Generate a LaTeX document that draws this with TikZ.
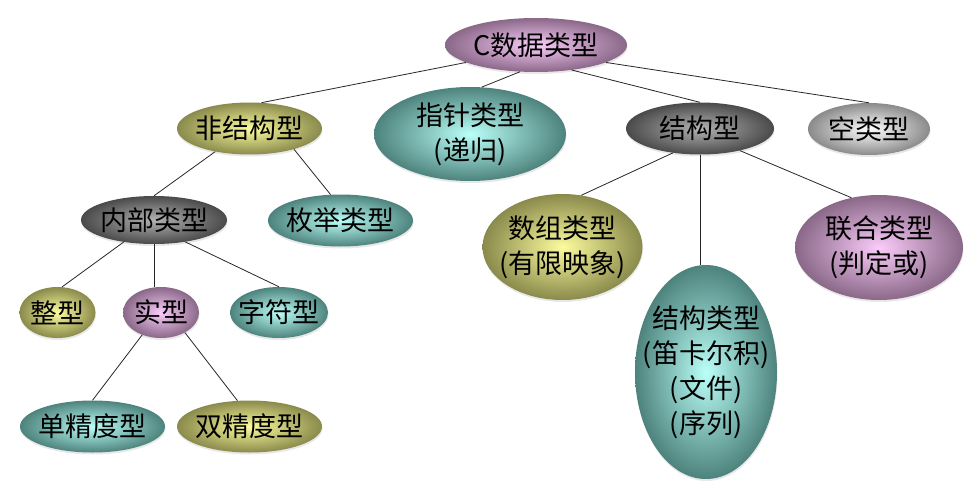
\documentclass[tikz,border=0pt]{standalone}
\usepackage{fontspec}
\setmainfont{Noto Sans CJK SC}
\usetikzlibrary{shapes.geometric,shadows}

\definecolor{lilacin}{HTML}{FACCFA}
\definecolor{lilacout}{HTML}{8A6888}
\definecolor{olivein}{HTML}{FCFC9E}
\definecolor{oliveout}{HTML}{8A8A4C}
\definecolor{aquain}{HTML}{BAFFF8}
\definecolor{aquaout}{HTML}{4E837D}
\definecolor{greyin}{HTML}{B2B2B2}
\definecolor{greyout}{HTML}{4A4A4A}
\definecolor{silverin}{HTML}{FFFFFF}
\definecolor{silverout}{HTML}{8A8A8A}

\begin{document}
\begin{tikzpicture}[x=1pt, y=-1pt,
  every node/.style={ellipse, inner sep=-16pt, align=center,
    font=\fontsize{27}{35}\selectfont,
    drop shadow={opacity=0.18, shadow xshift=0.5pt, shadow yshift=-2pt}},
  lilac/.style={inner color=lilacin, outer color=lilacout},
  olive/.style={inner color=olivein, outer color=oliveout},
  aqua/.style={inner color=aquain, outer color=aquaout},
  grey/.style={inner color=greyin, outer color=greyout},
  silver/.style={inner color=silverin, outer color=silverout},
  link/.style={draw=black!85, line width=0.8pt}]
\useasboundingbox (0,0) rectangle (964,487);

% level 1
\node[lilac, minimum width=182pt, minimum height=54pt] (cdata) at (536,45) {C数据类型};

% level 2
\node[olive, minimum width=145pt, minimum height=52pt] (nonstruct) at (249.5,128.5) {非结构型};
\node[aqua, minimum width=192pt, minimum height=94pt] (pointer) at (470,134) {指针类型\\(递归)};
\node[grey, minimum width=148pt, minimum height=52pt] (struct) at (700,128.5) {结构型};
\node[silver, minimum width=122pt, minimum height=52pt] (void) at (869,129) {空类型};

% level 3
\node[grey, minimum width=146pt, minimum height=48pt] (builtin) at (154,220) {内部类型};
\node[aqua, minimum width=145pt, minimum height=52pt] (enumt) at (340.5,220.5) {枚举类型};
\node[olive, minimum width=160pt, minimum height=106pt] (arrayt) at (562.5,247) {数组类型\\(有限映象)};
\node[aqua, minimum width=142pt, minimum height=214pt] (recordt) at (706,372) {结构类型\\(笛卡尔积)\\(文件)\\(序列)};
\node[lilac, minimum width=168pt, minimum height=105pt] (uniont) at (879,247.5) {联合类型\\(判定或)};

% level 4
\node[olive, minimum width=76pt, minimum height=51pt] (intt) at (57.5,312.5) {整型};
\node[lilac, minimum width=76pt, minimum height=51pt] (realt) at (161,312.5) {实型};
\node[aqua, minimum width=98pt, minimum height=51pt] (chart) at (279,312.5) {字符型};

% level 5
\node[aqua, minimum width=145pt, minimum height=52pt] (singlet) at (92.5,426.5) {单精度型};
\node[olive, minimum width=145pt, minimum height=52pt] (doublet) at (249.5,426.5) {双精度型};

% connectors
\draw[link] (cdata.194) -- (nonstruct.65);
\draw[link] (cdata.239) -- (pointer.76);
\draw[link] (cdata.325) -- (struct.north);
\draw[link] (cdata.346) -- (void.north);
\draw[link] (nonstruct.214) -- (builtin.north);
\draw[link] (nonstruct.335) -- (enumt.111);
\draw[link] (struct.222) -- (arrayt.70);
\draw[link] (struct.south) -- (struct.south |- recordt.north);
\draw[link] (struct.331) -- (uniont.119);
\draw[link] (builtin.216) -- (intt.80);
\draw[link] (builtin.south) -- (builtin.south |- realt.north);
\draw[link] (builtin.325) -- (chart.north);
\draw[link] (realt.230) -- (singlet.north);
\draw[link] (realt.320) -- (doublet.115);
\end{tikzpicture}
\end{document}
